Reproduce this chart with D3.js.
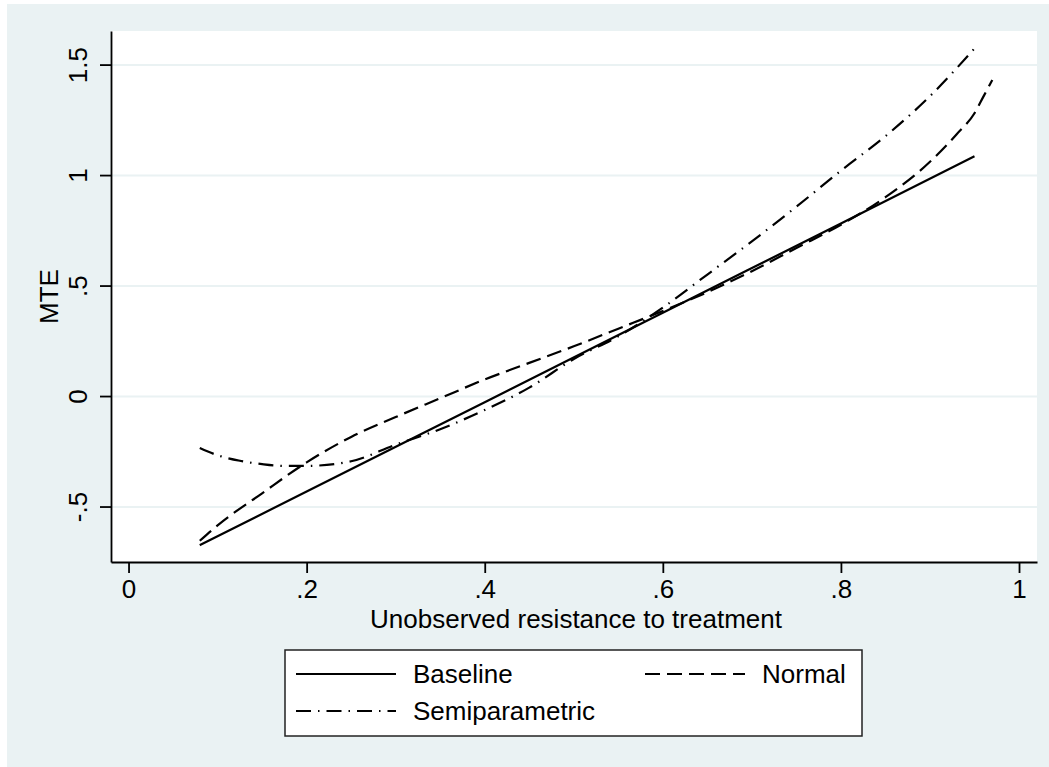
<!DOCTYPE html>
<html>
<head>
<meta charset="utf-8">
<script src="https://cdn.jsdelivr.net/npm/d3@7"></script>
<style>
  html, body { margin: 0; padding: 0; background: #ffffff; }
  svg { display: block; font-family: "Liberation Sans", Arial, sans-serif; }
</style>
</head>
<body>
<div id="chart"></div>
<script>
const width = 1049;
const height = 767;
const plot = { left: 111, right: 1037, top: 31, bottom: 562 };

// data
const baselineX = [0.08, 0.2, 0.4, 0.6, 0.8, 0.95];
const baselineY = [-0.675, -0.432, -0.028, 0.377, 0.781, 1.085];

const normalX = [0.08, 0.10, 0.15, 0.20, 0.25, 0.30, 0.35, 0.40, 0.45, 0.50, 0.55, 0.60,
  0.65, 0.70, 0.75, 0.80, 0.85, 0.90, 0.93, 0.95, 0.96, 0.97];
const normalY = [-0.655, -0.585, -0.44, -0.30, -0.185, -0.095, -0.01, 0.075, 0.15, 0.225, 0.305, 0.385,
  0.47, 0.565, 0.67, 0.775, 0.90, 1.06, 1.185, 1.28, 1.355, 1.43];

const semiX = [0.08, 0.10, 0.125, 0.15, 0.175, 0.20, 0.25, 0.30, 0.35, 0.40, 0.45, 0.50,
  0.55, 0.60, 0.65, 0.70, 0.75, 0.80, 0.85, 0.90, 0.95];
const semiY = [-0.235, -0.268, -0.293, -0.308, -0.316, -0.316, -0.295, -0.22, -0.15, -0.063, 0.038, 0.168,
  0.27, 0.40, 0.55, 0.70, 0.857, 1.02, 1.176, 1.357, 1.573];

const xTicks = [0, 0.2, 0.4, 0.6, 0.8, 1];
const xTickLabels = ["0", ".2", ".4", ".6", ".8", "1"];
const yTicks = [-0.5, 0, 0.5, 1, 1.5];
const yTickLabels = ["-.5", "0", ".5", "1", "1.5"];

const series = [
  { name: "Baseline", xs: baselineX, ys: baselineY, dash: null },
  { name: "Normal", xs: normalX, ys: normalY, dash: "15,7" },
  { name: "Semiparametric", xs: semiX, ys: semiY, dash: "15,7,1.5,7" },
];

const bg = "#eaf2f3";
const fontSize = "26px";

const svg = d3.select("#chart")
  .append("svg")
  .attr("width", width)
  .attr("height", height);

svg.append("rect")
  .attr("x", 7).attr("y", 4)
  .attr("width", width - 7).attr("height", height - 4)
  .attr("fill", bg);

svg.append("rect")
  .attr("x", plot.left).attr("y", plot.top)
  .attr("width", plot.right - plot.left).attr("height", plot.bottom - plot.top)
  .attr("fill", "#ffffff");

const xScale = d3.scaleLinear().domain([-0.0197, 1.0202]).range([plot.left, plot.right]);
const yScale = d3.scaleLinear().domain([-0.751, 1.652]).range([plot.bottom, plot.top]);

// gridlines
const grid = svg.append("g")
  .attr("transform", `translate(${plot.left},0)`)
  .call(d3.axisLeft(yScale).tickValues(yTicks).tickFormat("").tickSize(-(plot.right - plot.left)));
grid.select(".domain").remove();

// curves
const line = d3.line()
  .x(d => xScale(d[0]))
  .y(d => yScale(d[1]))
  .curve(d3.curveMonotoneX);

svg.append("g")
  .selectAll("path")
  .data(series)
  .join("path")
  .attr("d", s => line(s.xs.map((x, i) => [x, s.ys[i]])))
  .attr("fill", "none")
  .attr("stroke", "#000")
  .attr("stroke-width", 2.2)
  .attr("stroke-dasharray", s => s.dash);

// axes
const yAxis = svg.append("g")
  .attr("transform", `translate(${plot.left},0)`)
  .call(d3.axisLeft(yScale).tickValues(yTicks)
    .tickFormat((d, i) => yTickLabels[i]).tickSize(11).tickSizeOuter(0));
yAxis.selectAll("text")
  .attr("x", 0).attr("y", -24.5).attr("dy", 0)
  .attr("transform", "rotate(-90)")
  .attr("text-anchor", "middle");

const xAxis = svg.append("g")
  .attr("transform", `translate(0,${plot.bottom})`)
  .call(d3.axisBottom(xScale).tickValues(xTicks)
    .tickFormat((d, i) => xTickLabels[i]).tickSize(11).tickSizeOuter(0));
xAxis.selectAll("text").attr("y", 36).attr("dy", 0);

svg.selectAll(".tick text")
  .attr("fill", "#000")
  .style("font-size", fontSize)
  .style("font-family", "Liberation Sans, Arial, sans-serif");
svg.selectAll(".domain, .tick line").attr("stroke", "#000").attr("stroke-width", 1.8);
grid.selectAll("line").attr("stroke", bg).attr("stroke-width", 2);

// axis titles
svg.append("text")
  .attr("x", (plot.left + plot.right) / 2 + 2)
  .attr("y", 628)
  .attr("text-anchor", "middle")
  .style("font-size", fontSize)
  .text("Unobserved resistance to treatment");

svg.append("text")
  .attr("transform", `translate(58,${(plot.top + plot.bottom) / 2}) rotate(-90)`)
  .attr("text-anchor", "middle")
  .style("font-size", fontSize)
  .text("MTE");

// legend
const legend = svg.append("g");
legend.append("rect")
  .attr("x", 285).attr("y", 650)
  .attr("width", 577).attr("height", 86)
  .attr("fill", "#fff")
  .attr("stroke", "#222")
  .attr("stroke-width", 1.5);

const legendPos = [
  { x: 296, y: 674 },
  { x: 645, y: 674 },
  { x: 296, y: 711 },
];

const items = legend.selectAll("g.item")
  .data(series)
  .join("g")
  .attr("class", "item")
  .attr("transform", (d, i) => `translate(${legendPos[i].x},${legendPos[i].y})`);

items.append("line")
  .attr("x1", 0).attr("x2", 100)
  .attr("stroke", "#000")
  .attr("stroke-width", 2.2)
  .attr("stroke-dasharray", d => d.dash);

items.append("text")
  .attr("x", 117)
  .attr("y", 9)
  .style("font-size", fontSize)
  .text(d => d.name);
</script>
</body>
</html>
